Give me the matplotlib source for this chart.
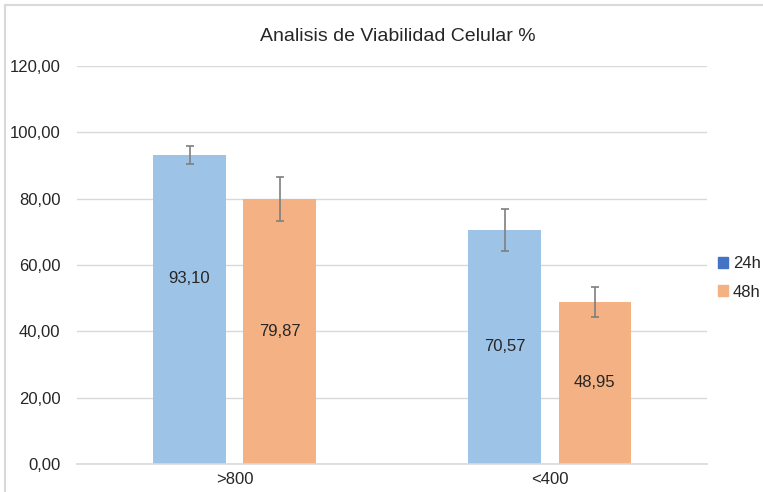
import matplotlib.pyplot as plt
from matplotlib.patches import Patch, Rectangle
import numpy as np

categories = [">800", "<400"]
series = ["24h", "48h"]
values_24h = [93.10, 70.57]
values_48h = [79.87, 48.95]
err_24h = [2.65, 6.4]
err_48h = [6.6, 4.5]
yticks = [0, 20, 40, 60, 80, 100, 120]

plt.rcParams['font.family'] = ['Liberation Sans', 'DejaVu Sans']

fig = plt.figure(figsize=(7.63, 4.92), dpi=100)
ax = fig.add_axes([0.101, 0.057, 0.826, 0.809])

x = np.arange(len(categories))
off = 0.143
w = 0.23
blue = '#9DC3E6'
orange = '#F4B183'

ax.bar(x - off, values_24h, w, color=blue, yerr=err_24h,
       error_kw=dict(ecolor='#7F7F7F', elinewidth=1.2, capsize=3, capthick=1.2), zorder=2)
ax.bar(x + off, values_48h, w, color=orange, yerr=err_48h,
       error_kw=dict(ecolor='#7F7F7F', elinewidth=1.2, capsize=3, capthick=1.2), zorder=2)

def fmt(v):
    return f"{v:.2f}".replace('.', ',')

for i in range(len(categories)):
    y24 = values_24h[i] / 2
    if i == 0:
        y24 = 56  # label moved up in the original
    ax.text(x[i] - off, y24, fmt(values_24h[i]), ha='center', va='center',
            fontsize=12, color='#262626')
    ax.text(x[i] + off, values_48h[i] / 2, fmt(values_48h[i]), ha='center', va='center',
            fontsize=12, color='#262626')

ax.set_xlim(-0.5, 1.5)
ax.set_ylim(0, 120)
ax.set_yticks(yticks)
ax.set_yticklabels([fmt(t) for t in yticks], fontsize=12, color='#262626')
ax.set_xticks(x)
ax.set_xticklabels(categories, fontsize=12, color='#262626')
ax.tick_params(length=0, pad=12)
ax.tick_params(axis='x', pad=6)
ax.yaxis.grid(True, color='#D9D9D9', linewidth=1, zorder=0)
ax.set_axisbelow(True)
for s in ['top', 'right', 'left']:
    ax.spines[s].set_visible(False)
ax.spines['bottom'].set_color('#D9D9D9')
ax.spines['bottom'].set_linewidth(1.2)

fig.text(0.522, 0.925, "Analisis de Viabilidad Celular %", ha='center', va='center',
         fontsize=14, color='#262626')

handles = [Patch(color='#4472C4'), Patch(color=orange)]
fig.legend(handles, series, loc='center left', bbox_to_anchor=(0.941, 0.435),
           frameon=False, fontsize=12, handlelength=0.6, handleheight=0.6,
           handletextpad=0.3, labelspacing=0.8, labelcolor='#262626',
           borderpad=0, borderaxespad=0)

# light chart border
fig.patches.append(Rectangle((0.006, -0.01), 1.0, 1.0, transform=fig.transFigure,
                             fill=False, edgecolor='#D9D9D9', linewidth=1.5))

fig.savefig('out.png', dpi=100)
